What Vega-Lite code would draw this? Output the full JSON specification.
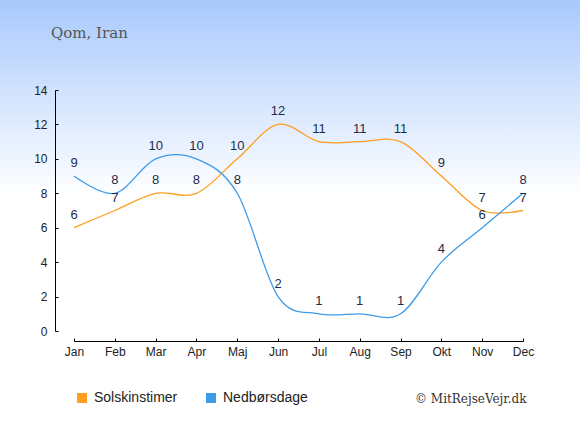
{
  "$schema": "https://vega.github.io/schema/vega-lite/v6.json",
  "width": 580,
  "height": 435,
  "autosize": {"type": "none"},
  "padding": 0,
  "background": "#ffffff",
  "config": {
    "view": {"stroke": null},
    "axis": {
      "grid": false,
      "domainColor": "#000000",
      "tickColor": "#000000",
      "labelFont": "Liberation Sans",
      "labelFontSize": 12,
      "labelColor": "#222222"
    }
  },
  "title": {
    "text": "Qom, Iran",
    "anchor": "start",
    "frame": "group",
    "orient": "top",
    "offset": -53,
    "baseline": "alphabetic",
    "dx": 51,
    "font": "DejaVu Serif",
    "fontSize": 15,
    "fontWeight": "normal",
    "color": "#555555"
  },
  "datasets": {
    "climate": [
      {"month": "Jan", "series": "Solskinstimer", "value": 6},
      {"month": "Feb", "series": "Solskinstimer", "value": 7},
      {"month": "Mar", "series": "Solskinstimer", "value": 8},
      {"month": "Apr", "series": "Solskinstimer", "value": 8},
      {"month": "Maj", "series": "Solskinstimer", "value": 10},
      {"month": "Jun", "series": "Solskinstimer", "value": 12},
      {"month": "Jul", "series": "Solskinstimer", "value": 11},
      {"month": "Aug", "series": "Solskinstimer", "value": 11},
      {"month": "Sep", "series": "Solskinstimer", "value": 11},
      {"month": "Okt", "series": "Solskinstimer", "value": 9},
      {"month": "Nov", "series": "Solskinstimer", "value": 7},
      {"month": "Dec", "series": "Solskinstimer", "value": 7},
      {"month": "Jan", "series": "Nedbørsdage", "value": 9},
      {"month": "Feb", "series": "Nedbørsdage", "value": 8},
      {"month": "Mar", "series": "Nedbørsdage", "value": 10},
      {"month": "Apr", "series": "Nedbørsdage", "value": 10},
      {"month": "Maj", "series": "Nedbørsdage", "value": 8},
      {"month": "Jun", "series": "Nedbørsdage", "value": 2},
      {"month": "Jul", "series": "Nedbørsdage", "value": 1},
      {"month": "Aug", "series": "Nedbørsdage", "value": 1},
      {"month": "Sep", "series": "Nedbørsdage", "value": 1},
      {"month": "Okt", "series": "Nedbørsdage", "value": 4},
      {"month": "Nov", "series": "Nedbørsdage", "value": 6},
      {"month": "Dec", "series": "Nedbørsdage", "value": 8}
    ]
  },
  "layer": [
    {
      "data": {"values": [{"bg": 1}]},
      "mark": {
        "type": "rect",
        "color": {
          "gradient": "linear",
          "x1": 0, "x2": 0, "y1": 0, "y2": 1,
          "stops": [
            {"offset": 0, "color": "#a8c9fd"},
            {"offset": 0.45, "color": "#ffffff"},
            {"offset": 1, "color": "#ffffff"}
          ]
        }
      },
      "encoding": {}
    },
    {
      "data": {"name": "climate"},
      "mark": {"type": "line", "interpolate": "cardinal", "strokeWidth": 1.3},
      "encoding": {
        "x": {
          "field": "month",
          "type": "ordinal",
          "sort": ["Jan","Feb","Mar","Apr","Maj","Jun","Jul","Aug","Sep","Okt","Nov","Dec"],
          "scale": {"type": "point", "range": [74, 523], "padding": 0},
          "axis": {
            "orient": "bottom",
            "offset": -94,
            "zindex": 2,
            "labelAngle": 0,
            "tickSize": -3,
            "labelPadding": 8,
            "title": "© MitRejseVejr.dk",
            "titleFont": "DejaVu Serif",
            "titleFontSize": 12,
            "titleFontWeight": "normal",
            "titleColor": "#333333",
            "titleX": 526,
            "titleY": 57,
            "titleAlign": "right",
            "titleBaseline": "middle"
          }
        },
        "y": {
          "field": "value",
          "type": "quantitative",
          "scale": {"domain": [0, 14], "range": [331, 90], "nice": false, "zero": true},
          "axis": {
            "orient": "left",
            "offset": -55,
            "zindex": 2,
            "values": [0, 2, 4, 6, 8, 10, 12, 14],
            "tickSize": -3,
            "labelPadding": 11,
            "title": null
          }
        },
        "color": {
          "field": "series",
          "type": "nominal",
          "scale": {"domain": ["Solskinstimer", "Nedbørsdage"], "range": ["#ff9e1f", "#3d9be9"]},
          "legend": {
            "title": null,
            "orient": "none",
            "legendX": 75,
            "legendY": 391,
            "direction": "horizontal",
            "symbolType": "square",
            "symbolSize": 100,
            "symbolStrokeWidth": 0,
            "symbolOpacity": 1,
            "labelFont": "Liberation Sans",
            "labelFontSize": 14,
            "labelColor": "#222222",
            "labelOffset": 5,
            "columnPadding": 26,
            "padding": 0,
            "values": ["Solskinstimer", "Nedbørsdage"],
            "encode": {
              "symbols": {
                "update": {
                  "fill": {"scale": "color", "field": "value"},
                  "fillOpacity": {"value": 1}
                }
              }
            }
          }
        }
      }
    },
    {
      "data": {"name": "climate"},
      "mark": {
        "type": "text",
        "dy": -13,
        "baseline": "middle",
        "font": "Liberation Sans",
        "fontSize": 13,
        "color": "#1e2c4b"
      },
      "encoding": {
        "x": {
          "field": "month",
          "type": "ordinal",
          "sort": ["Jan","Feb","Mar","Apr","Maj","Jun","Jul","Aug","Sep","Okt","Nov","Dec"]
        },
        "y": {"field": "value", "type": "quantitative"},
        "text": {"field": "value", "type": "quantitative"}
      }
    }
  ]
}
